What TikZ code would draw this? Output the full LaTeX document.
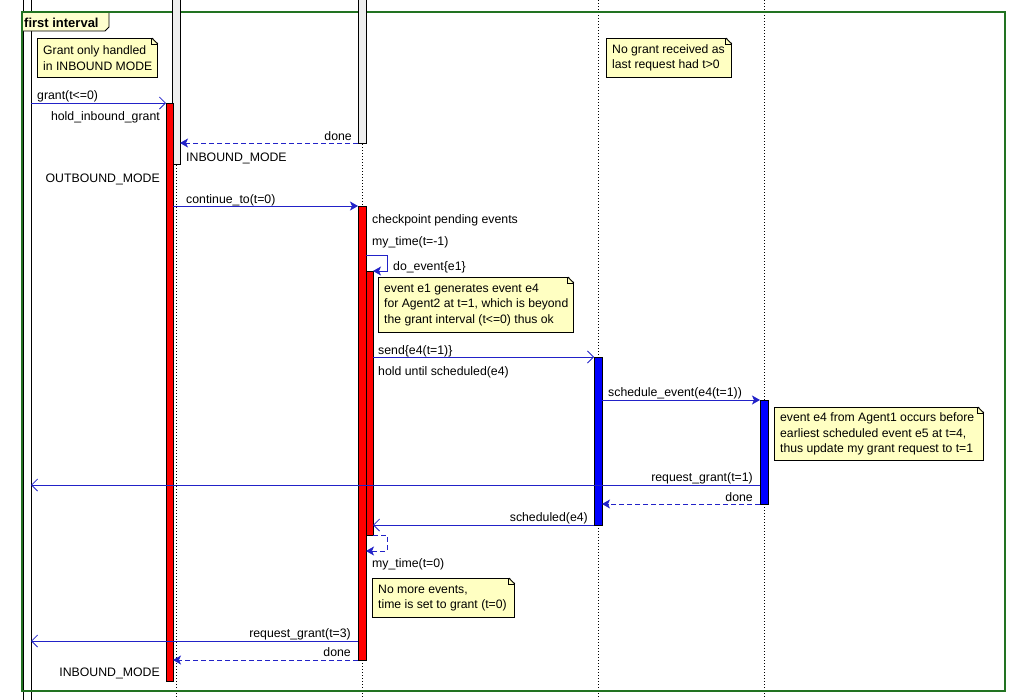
\documentclass[tikz,border=0pt]{standalone}
\usepackage{fontspec}
\setmainfont{Liberation Sans}
\usetikzlibrary{arrows.meta}
\definecolor{msgblue}{RGB}{34,34,200}
\definecolor{notefill}{RGB}{255,255,194}
\definecolor{tabfill}{RGB}{254,254,206}
\definecolor{framegreen}{RGB}{34,115,34}
\definecolor{idlegrey}{RGB}{238,238,238}
\tikzset{
    lbl/.style = {inner sep=0pt, font=\fontsize{12.3}{14}\selectfont},
    bar/.style = {draw=black, anchor=north west, inner sep=0pt, outer sep=0pt, line width=0.8pt},
    idle_bar/.style = {bar, fill=idlegrey},
    red_bar/.style = {bar, fill=red},
    blue_bar/.style = {bar, fill=blue},
    white_bar/.style = {bar, fill=white},
    note/.style = {draw=black, fill=notefill, anchor=north west, inner sep=0pt, line width=0.8pt},
    notetext/.style = {inner sep=0pt, anchor=west, align=left, font=\fontsize{12.2}{15.6}\selectfont},
    lifeline/.style = {black, line width=0.7pt, dash pattern=on 1pt off 2pt},
    async/.style = {draw=msgblue, line width=0.8pt, -{Straight Barb[length=6pt,width=12pt]}},
    sync/.style = {draw=msgblue, line width=0.8pt, -{Stealth[length=8pt,width=9pt,inset=2pt]}},
    reply/.style = {sync, dash pattern=on 5pt off 3pt}
}

\begin{document}
\begin{tikzpicture}[x=1pt, y=-1pt]
    \useasboundingbox (0,0) rectangle (1015,699);

    % lifelines
    \draw[lifeline] (176,0) -- (176,699);
    \draw[lifeline] (362,0) -- (362,699);
    \draw[lifeline] (598,0) -- (598,699);
    \draw[lifeline] (764,0) -- (764,699);
    \node[white_bar, minimum width=8pt, minimum height=710pt] (src) at (23,-5) {};

    % group frame
    \draw[black, fill=tabfill, line width=0.8pt] (21.5,11.5) -- (109,11.5) -- (109,27) -- (105,31) -- (21.5,31) -- cycle;
    \draw[framegreen, line width=2pt] (21.5,11.5) rectangle (1005,691);
    \node[lbl, font=\fontsize{13}{15}\selectfont\bfseries, anchor=base west] (lInterval) at (24,27) {first interval};

    % activations
    \node[idle_bar, minimum width=8pt, minimum height=169pt] (modeIdle) at (172,-5) {};
    \node[red_bar, minimum width=7pt, minimum height=578pt] (mode) at (166,103) {};
    \node[idle_bar, minimum width=8pt, minimum height=148pt] (agentIdle) at (358,-5) {};
    \node[red_bar, minimum width=8pt, minimum height=454pt] (agent) at (358,206) {};
    \node[red_bar, minimum width=7pt, minimum height=264pt] (event) at (366,271) {};
    \node[blue_bar, minimum width=8pt, minimum height=168pt] (peer) at (594,357) {};
    \node[blue_bar, minimum width=8pt, minimum height=104pt] (sched) at (760,400) {};

    % message rows
    \coordinate (rDo) at (0,255);
    \coordinate (rReq1) at (0,485);
    \coordinate (rBack) at (0,551);
    \coordinate (rReq3) at (0,641);

    % messages
    \draw[async] (src.east |- mode.north) -- (mode.north west);
    \draw[reply] (agentIdle.south west) -- (modeIdle.east |- agentIdle.south);
    \draw[sync] (mode.east |- agent.north) -- (agent.north west);
    \draw[sync] (agent.east |- rDo) -- ++(21,0) -- ++(0,16) -- (event.north east);
    \draw[async] (event.east |- peer.north) -- (peer.north west);
    \draw[sync] (peer.east |- sched.north) -- (sched.north west);
    \draw[async] (sched.west |- rReq1) -- (src.east |- rReq1);
    \draw[reply] (sched.south west) -- (peer.east |- sched.south);
    \draw[async] (peer.south west) -- (event.east |- peer.south);
    \draw[reply] (event.south east) -- ++(14,0) -- ++(0,16) -- (agent.east |- rBack);
    \draw[async] (agent.west |- rReq3) -- (src.east |- rReq3);
    \draw[reply] (agent.south west) -- (mode.east |- agent.south);

    % labels
    \node[lbl, anchor=base west] (lGrant) at (37,99.5) {grant(t<=0)};
    \node[lbl, anchor=base east] (lHold) at (160,120) {hold\_inbound\_grant};
    \node[lbl, anchor=base east] (lDone1) at (352,140) {done};
    \node[lbl, anchor=base west] (lIn1) at (186,161) {INBOUND\_MODE};
    \node[lbl, anchor=base east] (lOut) at (160,182) {OUTBOUND\_MODE};
    \node[lbl, anchor=base west] (lCont) at (186,203) {continue\_to(t=0)};
    \node[lbl, anchor=base west] (lCheck) at (372,223) {checkpoint pending events};
    \node[lbl, anchor=base west] (lTime1) at (372,245) {my\_time(t=-1)};
    \node[lbl, anchor=base west] (lDo) at (393,270) {do\_event\{e1\}};
    \node[lbl, anchor=base west] (lSend) at (378,354) {send\{e4(t=1)\}};
    \node[lbl, anchor=base west] (lUntil) at (378,375) {hold until scheduled(e4)};
    \node[lbl, anchor=base west] (lSchedEv) at (608,396) {schedule\_event(e4(t=1))};
    \node[lbl, anchor=base east] (lReq1) at (753,481) {request\_grant(t=1)};
    \node[lbl, anchor=base east] (lDone2) at (753,501) {done};
    \node[lbl, anchor=base east] (lSched) at (588,521) {scheduled(e4)};
    \node[lbl, anchor=base west] (lTime0) at (372,567) {my\_time(t=0)};
    \node[lbl, anchor=base east] (lReq3) at (351,637) {request\_grant(t=3)};
    \node[lbl, anchor=base east] (lDone3) at (351,656) {done};
    \node[lbl, anchor=base east] (lIn2) at (160,676) {INBOUND\_MODE};

    % notes
    \node[note, minimum width=120pt, minimum height=39pt] (nGrant) at (37,38) {};
    \node[note, minimum width=125pt, minimum height=39pt] (nNoGrant) at (606,38) {};
    \node[note, minimum width=195pt, minimum height=55pt] (nBeyond) at (378,277) {};
    \node[note, minimum width=209pt, minimum height=53pt] (nBefore) at (774,407) {};
    \node[note, minimum width=142pt, minimum height=39pt] (nNoMore) at (372,578) {};
    \foreach \n in {nGrant,nNoGrant,nBeyond,nBefore,nNoMore} {
        \fill[white] ([xshift=-6pt,yshift=1pt]\n.north east) -- ([xshift=1pt,yshift=1pt]\n.north east) -- ([xshift=1pt,yshift=-6pt]\n.north east) -- cycle;
        \draw[line width=0.8pt] ([xshift=-6pt]\n.north east) -- ([yshift=-6pt]\n.north east);
        \draw[line width=0.8pt] ([xshift=-6pt]\n.north east) |- ([yshift=-6pt]\n.north east);
    }
    \node[notetext] (tGrant) at ([xshift=6pt]nGrant.west) {Grant only handled\\in INBOUND MODE};
    \node[notetext] (tNoGrant) at ([xshift=6pt]nNoGrant.west) {No grant received as\\last request had t>0};
    \node[notetext] (tBeyond) at ([xshift=6pt]nBeyond.west) {event e1 generates event e4\\for Agent2 at t=1, which is beyond\\the grant interval (t<=0) thus ok};
    \node[notetext] (tBefore) at ([xshift=6pt]nBefore.west) {event e4 from Agent1 occurs before\\earliest scheduled event e5 at t=4,\\thus update my grant request to t=1};
    \node[notetext] (tNoMore) at ([xshift=6pt]nNoMore.west) {No more events,\\time is set to grant (t=0)};
\end{tikzpicture}
\end{document}
